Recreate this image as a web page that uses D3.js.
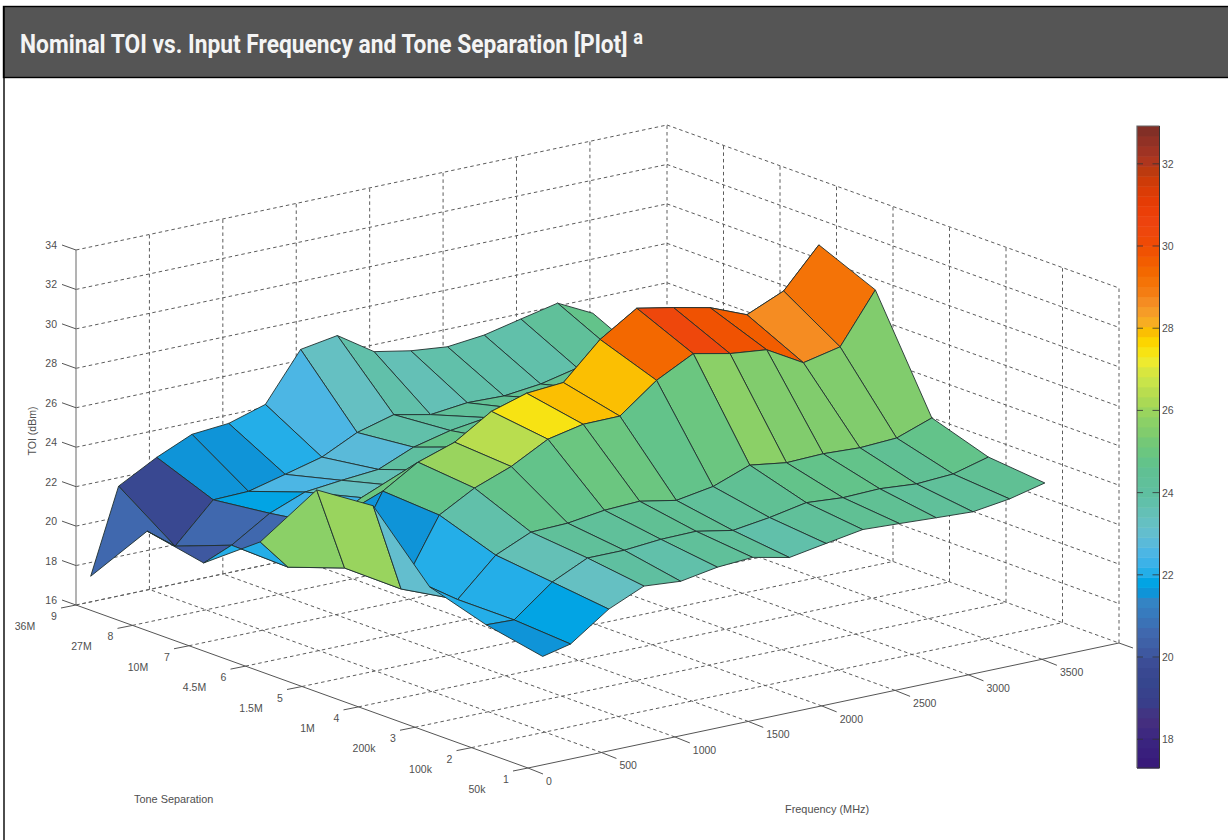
<!DOCTYPE html>
<html>
<head>
<meta charset="utf-8">
<title>Nominal TOI vs. Input Frequency and Tone Separation</title>
<script src="https://cdnjs.cloudflare.com/ajax/libs/d3/7.8.5/d3.min.js"></script>
<style>
html,body{margin:0;padding:0;background:#fff;overflow:hidden}
svg{display:block}
text{font-family:"Liberation Sans",Arial,sans-serif;font-size:10.5px;fill:#4f4f4f}
</style>
</head>
<body>
<svg id="chart" width="1228" height="840"></svg>
<script>
// ---- data ----
const frequencies = [100,290,550,790,1040,1290,1530,1780,2030,2280,2530,2780,3030,3280,3520];
const toi1 = [21.50,21.83,23.19,23.98,23.83,24.15,24.27,23.87,24.19,24.50,24.41,24.31,24.22,24.48,24.91];
const toi2 = [22.07,22.02,23.53,24.37,24.37,24.53,24.56,24.21,24.47,24.83,24.69,24.75,24.60,24.71,25.19];
const toi3 = [22.96,22.02,23.86,24.65,24.71,24.97,25.05,24.70,25.01,25.70,25.43,25.49,25.40,25.50,26.14];
const toi4 = [26.04,21.52,24.86,25.85,26.55,27.54,27.92,27.94,29.36,30.32,29.93,29.73,28.68,29.09,31.60];
const toi5 = [25.81,21.55,25.04,26.13,26.75,27.92,28.46,28.61,30.40,31.59,31.23,30.83,30.08,30.89,32.85];
const toi6 = [22.14,20.56,22.30,23.30,23.50,23.90,24.70,24.60,24.70,24.70,24.60,24.60,24.60,24.70,24.70];
const toi7 = [20.04,20.64,21.85,22.55,22.75,22.91,23.66,24.11,24.37,24.40,24.50,24.60,24.60,24.60,24.40];
const toi8 = [20.62,19.56,21.50,21.55,22.02,22.50,23.37,23.88,23.49,23.70,23.65,23.86,24.28,24.74,23.85];
const toi9 = [17.30,21.57,22.62,23.41,23.57,24.14,26.55,26.86,25.65,25.30,25.11,25.31,25.73,26.14,25.25];
const toiRows = [toi1,toi2,toi3,toi4,toi5,toi6,toi7,toi8,toi9];

const toneTicks = [1,2,3,4,5,6,7,8,9];
const toneLabels = ["50k","100k","200k","1M","1.5M","4.5M","10M","27M","36M"];
const freqTicks = [0,500,1000,1500,2000,2500,3000,3500];
const toiTicks = [16,18,20,22,24,26,28,30,32,34];
const barTicks = [18,20,22,24,26,28,30,32];

const cmapValues = [17.3,18,18.5,18.9,19.4,19.8,20.2,20.6,21,21.33,21.57,21.82,22.06,22.3,22.55,22.9,23.2,23.6,24,24.5,24.8,25.2,25.5,25.85,26.05,26.4,26.7,27,27.2,27.4,27.6,27.8,28,28.2,28.6,28.95,29.3,29.7,30,30.5,31,31.5,31.8,32.1,32.5,32.92];
const cmapColors = ["#371879","#3a2680","#46307f","#393e8a","#36468e","#3c4a94","#3f5ca3","#4068ae","#3878bc","#3484c4","#0f94d8","#02a4e4","#24aee8","#3cb2e8","#4cb6e4","#60bcd4","#66c0c6","#63c0b2","#5fbfa0","#60c094","#64c488","#72c878","#82cc6c","#90d264","#a0d65a","#b6dc50","#c8e44a","#dce63c","#eeea2e","#f6e416","#fbde00","#fdc400","#f9bc03","#f7a92a","#f58f25","#f47a10","#f46c00","#f15a00","#ef4c03","#ee4510","#e93c05","#d43c06","#bd3a0e","#ac3520","#943125","#7a2e26"];

// ---- scales: an oblique 3-D projection built from linear scales ----
const fMax = 4025, zMin = 16, zMax = 34;
const origin = [528,768];
const fX = d3.scaleLinear().domain([0,fMax]).range([0,591]);
const fY = d3.scaleLinear().domain([0,fMax]).range([0,-125]);
const tX = d3.scaleLinear().domain([1,9]).range([0,-452]);
const tY = d3.scaleLinear().domain([1,9]).range([0,-163]);
const zY = d3.scaleLinear().domain([zMin,zMax]).range([0,-355]);
const project = (f,t,z) => [origin[0]+fX(f)+tX(t), origin[1]+fY(f)+tY(t)+zY(z)];

const nBands = 64;
const ramp = d3.scaleLinear().domain(cmapValues).range(cmapColors).interpolate(d3.interpolateRgb).clamp(true);
const cDomain = [17.3,32.92];
const bandIndex = d3.scaleQuantize().domain(cDomain).range(d3.range(nBands));
const bandValue = d3.scaleLinear().domain([-0.5,nBands-0.5]).range(cDomain);
const colour = v => ramp(bandValue(bandIndex(v)));

const svg = d3.select("#chart");
const line = d3.line();

// ---- page frame ----
svg.append("rect").attr("x",0).attr("y",0).attr("width",1228).attr("height",840).attr("fill","#fff");
svg.append("rect").attr("x",3.5).attr("y",6.5).attr("width",1226).attr("height",71).attr("fill","#555").attr("stroke","#000").attr("stroke-width",1.4);
svg.append("line").attr("x1",4).attr("x2",4).attr("y1",6).attr("y2",840).attr("stroke","#000").attr("stroke-width",1.4);
const title = svg.append("text").attr("transform","translate(20,53) scale(0.911,1)").style("font-family","Roboto").style("font-weight",700).style("font-size","25px").style("fill","#f4f4f4");
title.append("tspan").text("Nominal TOI vs. Input Frequency and Tone Separation [Plot] ");
title.append("tspan").attr("dy",-9).style("font-size","20px").text("a");

// ---- grid: back walls and floor ----
const grid = svg.append("g").attr("fill","none").attr("stroke","#5c5c5c").attr("stroke-width",1).attr("stroke-dasharray","3.5,3");
const seg = (a,b) => grid.append("path").attr("d",line([a,b]));
toiTicks.forEach(z => { seg(project(0,9,z),project(fMax,9,z)); seg(project(fMax,9,z),project(fMax,1,z)); });
freqTicks.slice(1).concat([fMax]).forEach(f => seg(project(f,9,zMin),project(f,9,zMax)));
toneTicks.slice(0,-1).forEach(t => seg(project(fMax,t,zMin),project(fMax,t,zMax)));
toneTicks.slice(1).forEach(t => seg(project(0,t,zMin),project(fMax,t,zMin)));
freqTicks.slice(1).forEach(f => seg(project(f,1,zMin),project(f,9,zMin)));

// ---- solid axes, ticks and labels ----
const axes = svg.append("g").attr("fill","none").attr("stroke","#555").attr("stroke-width",1);
const solid = (a,b) => axes.append("path").attr("d",line([a,b]));
solid(project(0,9,zMin),project(0,9,zMax)).attr("stroke","#8a8a8a").attr("stroke-width",1.3);
solid(project(0,9,zMin),project(0,1,zMin));
solid(project(0,1,zMin),project(fMax,1,zMin));

toiTicks.forEach(z => {
  const p = project(0,9,z);
  solid(p,[p[0]-14,p[1]-5]);
  svg.append("text").attr("x",p[0]-19).attr("y",p[1]-1).attr("text-anchor","end").text(z);
});
toneTicks.forEach((t,i) => {
  const p = project(0,t,zMin);
  solid(p,[p[0]-15,p[1]+3]);
  svg.append("text").attr("x",p[0]-22).attr("y",p[1]+15).attr("text-anchor","middle").text(t);
  svg.append("text").attr("x",p[0]-51).attr("y",p[1]+25).attr("text-anchor","middle").text(toneLabels[i]);
});
freqTicks.forEach(f => {
  const p = project(f,1,zMin);
  solid(p,[p[0]+15,p[1]+6]);
  svg.append("text").attr("x",p[0]+18).attr("y",p[1]+17).text(f);
});
const endCorner = project(fMax,1,zMin);
solid(endCorner,[endCorner[0]+14,endCorner[1]+5]);

svg.append("text").attr("x",134).attr("y",803).style("font-size","10.9px").text("Tone Separation");
svg.append("text").attr("x",785).attr("y",813).style("font-size","10.9px").text("Frequency (MHz)");
svg.append("text").attr("transform","translate(36,431) rotate(-90)").attr("text-anchor","middle").text("TOI (dBm)");

// ---- surface: painter's order, far cells first; each cell takes the colour of its near, low-frequency corner ----
const cells = [];
for (let t = toiRows.length-2; t >= 0; t--) {
  for (let i = frequencies.length-2; i >= 0; i--) {
    cells.push({t,i});
  }
}
const corner = (t,i) => project(frequencies[i],t+1,toiRows[t][i]);
svg.append("g").selectAll("path").data(cells).join("path")
  .attr("d", c => line([corner(c.t,c.i),corner(c.t,c.i+1),corner(c.t+1,c.i+1),corner(c.t+1,c.i)])+"Z")
  .attr("fill", c => colour(toiRows[c.t][c.i]))
  .attr("stroke","#20302f")
  .attr("stroke-width",0.9)
  .attr("stroke-linejoin","round");

// ---- colour bar ----
const barY = d3.scaleLinear().domain(cDomain).range([768,126]);
const barX0 = 1137, barX1 = 1159.5;
const bar = svg.append("g");
bar.selectAll("rect").data(d3.range(nBands)).join("rect")
  .attr("x",barX0).attr("width",barX1-barX0)
  .attr("y",k => barY(bandValue(k+0.5)))
  .attr("height",k => barY(bandValue(k-0.5))-barY(bandValue(k+0.5))+0.5)
  .attr("fill",k => ramp(bandValue(k)));
bar.append("path").attr("d",line([[barX0,768],[barX0,126],[barX1,126]])).attr("fill","none").attr("stroke","#666").attr("stroke-width",1.2);
bar.append("path").attr("d",line([[barX0,768],[barX1,768],[barX1,126]])).attr("fill","none").attr("stroke","#333").attr("stroke-width",1);
barTicks.forEach(v => {
  const y = barY(v);
  bar.append("path").attr("d",line([[barX0,y],[barX0+6,y]])).attr("stroke","#333").attr("stroke-opacity",0.8);
  bar.append("path").attr("d",line([[barX1-7,y],[barX1,y]])).attr("stroke","#333").attr("stroke-opacity",0.8);
  bar.append("text").attr("x",barX1+2.5).attr("y",y+4).text(v);
});
</script>
</body>
</html>
